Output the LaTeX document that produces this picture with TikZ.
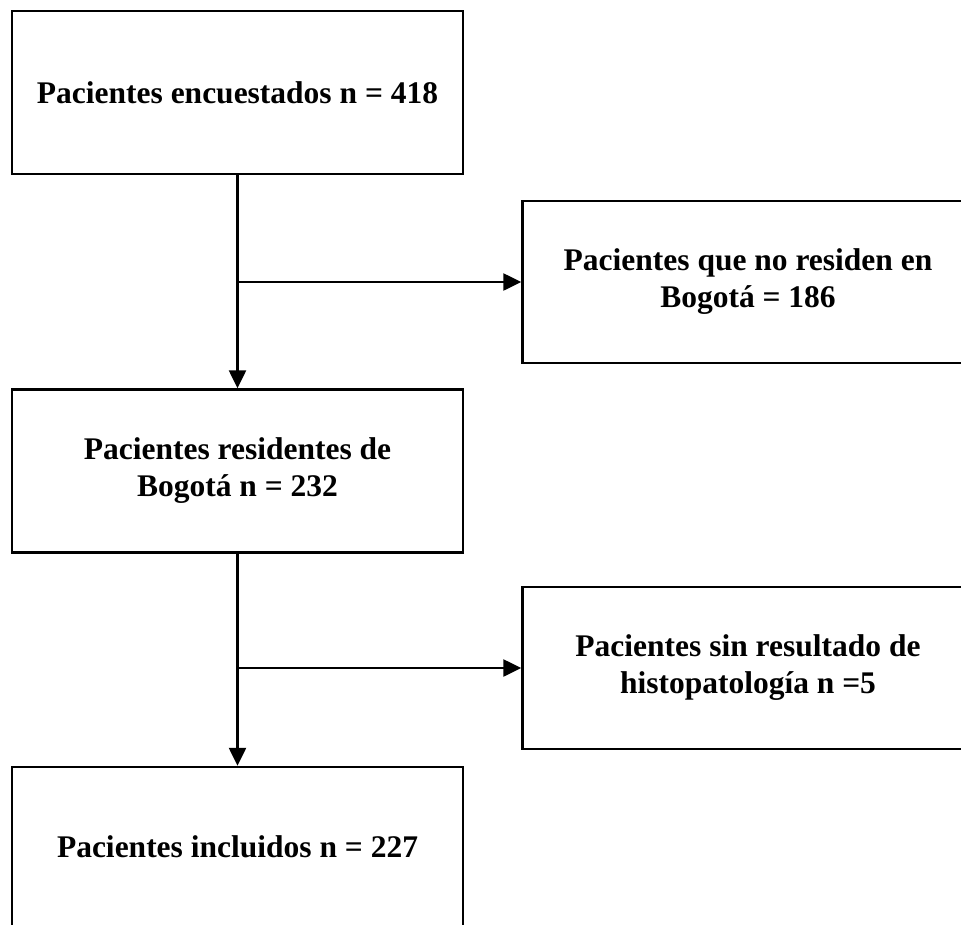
\documentclass[tikz,border=0pt]{standalone}
\usepackage{fontspec}
\setmainfont{Liberation Serif}
\usetikzlibrary{arrows.meta}
\begin{document}
\begin{tikzpicture}[x=1pt,y=-1pt,
  box/.style={draw, line width=2.4pt, minimum width=451pt, minimum height=163pt,
    inner sep=0pt, align=center, font=\fontsize{31.5}{37}\selectfont\bfseries},
  arr/.style={line width=2.4pt, -{Triangle[length=18pt,width=17pt]}}]
\useasboundingbox (0,0) rectangle (961,924);
\node[box] (b1) at (237.5,92.5) {\raisebox{-4pt}{Pacientes encuestados n = 418}};
\node[box, minimum height=162pt] (b2) at (748,282) {Pacientes que no residen en\\Bogotá = 186};
\node[box] (b3) at (237.5,471) {Pacientes residentes de\\Bogotá n = 232};
\node[box, minimum height=162pt] (b4) at (748,668) {Pacientes sin resultado de\\histopatología n =5};
\node[box, minimum height=164pt] (b5) at (237.5,849) {\raisebox{5pt}{Pacientes incluidos n = 227}};
\draw[arr] (b1.south) -- (b3.north);
\draw[arr] (b3.south) -- (b5.north);
\coordinate (j1) at (b1.south |- b2.west);
\coordinate (j2) at (b3.south |- b4.west);
\draw[arr] (j1) -- (b2.west);
\draw[arr] (j2) -- (b4.west);
\end{tikzpicture}
\end{document}
